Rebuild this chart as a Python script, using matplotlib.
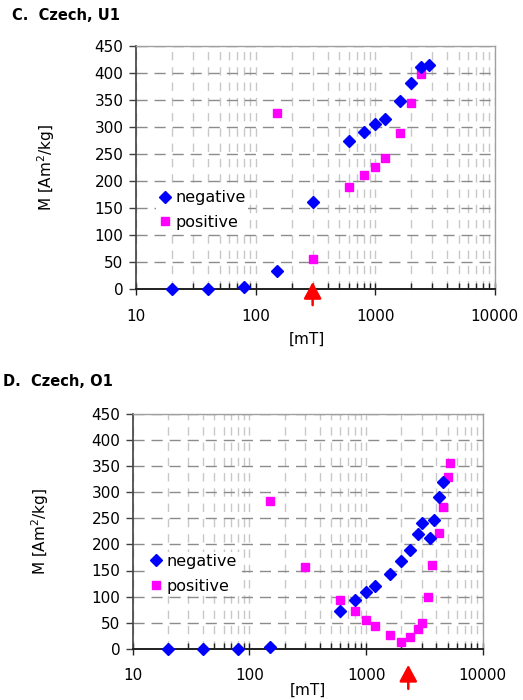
import matplotlib
matplotlib.use("Agg")
import matplotlib.pyplot as plt
from matplotlib.ticker import FixedLocator, LogLocator, NullFormatter

# ---- data (C. Czech, U1) ----
c_neg_x = [20, 40, 80, 150, 300, 600, 800, 1000, 1200, 1600, 2000, 2400, 2800]
c_neg_y = [1, 1, 3, 33, 161, 274, 291, 306, 316, 348, 381, 412, 415]
c_pos_x = [150, 300, 600, 800, 1000, 1200, 1600, 2000, 2400]
c_pos_y = [327, 55, 189, 211, 226, 242, 289, 344, 399]
c_arrow_x = 300

# ---- data (D. Czech, O1) ----
d_neg_x = [20, 40, 80, 150, 600, 800, 1000, 1200, 1600, 2000, 2400, 2800, 3000, 3500, 3800, 4200, 4600]
d_neg_y = [0, 0, 0, 4, 73, 93, 109, 121, 144, 168, 190, 220, 240, 212, 247, 291, 319]
d_pos_x = [150, 300, 600, 800, 1000, 1200, 1600, 2000, 2400, 2800, 3000, 3400, 3700, 4200, 4600, 5000, 5200]
d_pos_y = [283, 157, 93, 73, 56, 44, 26, 13, 22, 38, 50, 100, 161, 222, 272, 329, 355]
d_arrow_x = 2300

titles = ["C.  Czech, U1", "D.  Czech, O1"]
series_labels = ["negative", "positive"]
y_ticks = list(range(0, 451, 50))
x_ticks = [10, 100, 1000, 10000]

BLUE = "#0000FF"
MAGENTA = "#FF00FF"

fig = plt.figure(figsize=(5.23, 7.0), dpi=100)

def make_panel(rect, nx, ny, px, py, arrow_x, arrow_tip, arrow_tail,
               leg_anchor, ylab_x, xlab_xy):
    ax = fig.add_axes(rect)
    ax.set_xscale("log")
    ax.set_xlim(10, 10000)
    ax.set_ylim(0, 450)
    ax.set_axisbelow(True)
    # grid
    ax.xaxis.set_major_locator(FixedLocator(x_ticks))
    ax.xaxis.set_minor_locator(LogLocator(base=10, subs=range(2, 10)))
    ax.xaxis.set_minor_formatter(NullFormatter())
    ax.set_xticklabels([str(v) for v in x_ticks])
    ax.set_yticks(y_ticks)
    ax.yaxis.grid(True, which="major", color="#8c8c8c", lw=1.0, ls=(0, (8, 5)))
    ax.xaxis.grid(True, which="both", color="#c8c8c8", lw=1.0, ls=(0, (6, 5)))
    for s in ["top", "right"]:
        ax.spines[s].set_color("#a0a0a0")
        ax.spines[s].set_linewidth(1.0)
    ax.spines["left"].set_color("#404040")
    ax.spines["bottom"].set_color("#202020")
    ax.spines["left"].set_linewidth(1.2)
    ax.spines["bottom"].set_linewidth(1.4)
    ax.tick_params(axis="y", direction="out", length=5, width=1, color="#404040",
                   labelsize=11, pad=4)
    ax.tick_params(axis="x", which="major", direction="inout", length=8, width=1,
                   color="#202020", labelsize=11, pad=10)
    ax.tick_params(axis="x", which="minor", direction="in", length=4, width=1,
                   color="#202020")
    # data
    ax.plot(nx, ny, ls="none", marker="D", ms=6.5, color=BLUE, mec=BLUE,
            label=series_labels[0], clip_on=False, zorder=4)
    ax.plot(px, py, ls="none", marker="s", ms=5.5, color=MAGENTA, mec=MAGENTA,
            label=series_labels[1], clip_on=False, zorder=3)
    leg = ax.legend(loc="center left", bbox_to_anchor=leg_anchor, frameon=True,
                    fontsize=11.5, handlelength=0.9, handletextpad=0.2,
                    borderpad=0.15, labelspacing=0.6, borderaxespad=0,
                    fancybox=False)
    leg.get_frame().set_facecolor("white")
    leg.get_frame().set_edgecolor("none")
    leg.get_frame().set_alpha(1)
    ax.set_ylabel("M [Am$^2$/kg]", fontsize=11)
    ax.yaxis.set_label_coords(ylab_x, 0.5)
    ax.set_xlabel("[mT]", fontsize=11)
    ax.xaxis.set_label_coords(*xlab_xy)
    ax.annotate("", xy=(arrow_x, arrow_tip), xytext=(arrow_x, arrow_tail),
                xycoords=("data", "axes fraction"),
                textcoords=("data", "axes fraction"),
                arrowprops=dict(arrowstyle="-|>,head_width=5.4,head_length=10",
                                mutation_scale=1, color="#FF0000", lw=1.8,
                                shrinkA=0, shrinkB=0),
                annotation_clip=False)
    return ax

ax1 = make_panel([0.260, 0.587, 0.686, 0.347], c_neg_x, c_neg_y, c_pos_x, c_pos_y,
                 c_arrow_x, 0.029, -0.066, (0.055, 0.325), -0.22, (0.476, -0.177))
ax2 = make_panel([0.254, 0.073, 0.669, 0.336], d_neg_x, d_neg_y, d_pos_x, d_pos_y,
                 d_arrow_x, -0.068, -0.170, (0.04, 0.319), -0.235, (0.5, -0.145))

fig.text(12 / 523, 1 - 15 / 700, titles[0], fontsize=10.5, fontweight="bold",
         va="center", ha="left")
fig.text(3 / 523, 1 - 382 / 700, titles[1], fontsize=10.5, fontweight="bold",
         va="center", ha="left")

fig.savefig("out.png", dpi=100)
